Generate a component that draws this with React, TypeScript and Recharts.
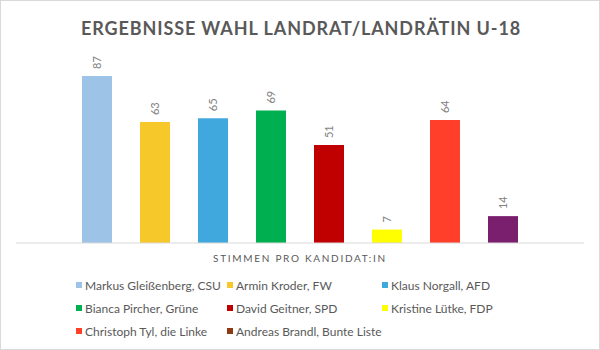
import React from "react";
import { BarChart, Bar, XAxis, YAxis, LabelList } from "recharts";

const TITLE = "ERGEBNISSE WAHL LANDRAT/LANDRÄTIN U-18";
const CATEGORY = "Stimmen pro Kandidat:in";
const candidates = [
  "Markus Gleißenberg, CSU",
  "Armin Kroder, FW",
  "Klaus Norgall, AFD",
  "Bianca Pircher, Grüne",
  "David Geitner, SPD",
  "Kristine Lütke, FDP",
  "Christoph Tyl, die Linke",
  "Andreas Brandl, Bunte Liste",
];
const votes = [87, 63, 65, 69, 51, 7, 64, 14];
const barColors = ["#9DC3E6", "#F7C829", "#41A8DE", "#00B050", "#C00000", "#FFFF00", "#FF3F2A", "#7A1F6E"];
const legendColors = ["#9DC3E6", "#F7C829", "#41A8DE", "#00B050", "#C00000", "#FFFF00", "#FF3F2A", "#8B3A12"];

const row: Record<string, string | number> = { cat: CATEGORY };
votes.forEach((v, i) => {
  row["s" + i] = v;
});
const data = [row];

const FONT = "Lato, 'Open Sans', sans-serif";

const RotLabel = (props: any) => {
  const { x, y, width, value } = props;
  const cx = Number(x) + Number(width) / 2;
  const ty = Number(y) - 7;
  return (
    <text
      x={cx}
      y={ty}
      transform={`rotate(-90 ${cx} ${ty})`}
      textAnchor="start"
      dominantBaseline="central"
      fill="#7F7F7F"
      fontSize={11}
      fontFamily={FONT}
    >
      {value}
    </text>
  );
};

const CatTick = (props: any) => {
  const { x, y, payload } = props;
  return (
    <text
      x={x}
      y={y + 7}
      textAnchor="middle"
      dominantBaseline="central"
      fill="#595959"
      fontSize={10}
      fontFamily={FONT}
      style={{ letterSpacing: "1.7px" }}
    >
      {String(payload.value).toUpperCase()}
    </text>
  );
};

const legendCols = [76, 227, 382];
const legendRows = [285, 308, 331];

export default function App() {
  return (
    <div
      style={{
        position: "relative",
        width: 600,
        height: 350,
        boxSizing: "border-box",
        border: "1px solid #D9D9D9",
        background: "#fff",
        fontFamily: FONT,
      }}
    >
      <style>{`body{margin:0}`}</style>
      <div
        style={{
          position: "absolute",
          left: 0,
          top: 14,
          width: 600,
          textAlign: "center",
          fontSize: 18,
          fontWeight: 700,
          letterSpacing: "0.9px",
          color: "#595959",
          lineHeight: "26px",
        }}
      >
        {TITLE}
      </div>
      <div style={{ position: "absolute", left: -1, top: -1 }}>
        <BarChart
          width={600}
          height={350}
          data={data}
          margin={{ top: 51, right: 16, left: 16, bottom: 77 }}
          barSize={30}
          barGap={28}
        >
          <XAxis
            dataKey="cat"
            axisLine={{ stroke: "#D9D9D9" }}
            tickLine={false}
            tick={<CatTick />}
            height={30}
          />
          <YAxis hide domain={[0, 100]} />
          {votes.map((_, i) => (
            <Bar key={i} dataKey={"s" + i} name={candidates[i]} fill={barColors[i]} isAnimationActive={false}>
              <LabelList dataKey={"s" + i} content={<RotLabel />} />
            </Bar>
          ))}
        </BarChart>
      </div>
      {candidates.map((name, i) => {
        const col = legendCols[i % 3];
        const r = legendRows[Math.floor(i / 3)];
        return (
          <div
            key={name}
            style={{
              position: "absolute",
              left: col - 1,
              top: r - 1 - 8,
              height: 16,
              display: "flex",
              alignItems: "center",
              whiteSpace: "nowrap",
              fontSize: 12,
              color: "#595959",
            }}
          >
            <span style={{ display: "inline-block", width: 6, height: 6, background: legendColors[i], marginRight: 3 }} />
            <span>{name}</span>
          </div>
        );
      })}
    </div>
  );
}
